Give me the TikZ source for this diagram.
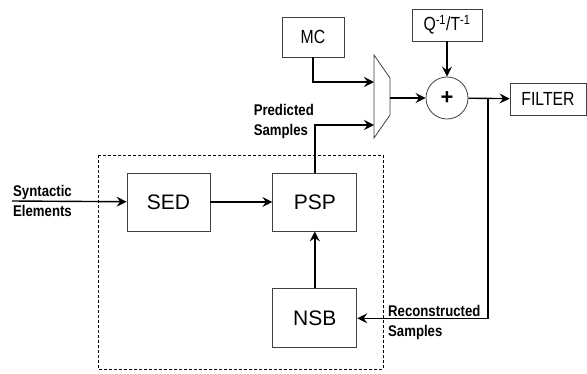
\documentclass[tikz,border=0pt]{standalone}
\usepackage{fontspec}
\setmainfont{Liberation Sans}
\newfontfamily\narrowsans[FakeStretch = 0.83]{Liberation Sans}
\newfontfamily\narrowbold[FakeStretch = 0.85, BoldFont = {Liberation Sans Bold}]{Liberation Sans}
\usetikzlibrary{arrows.meta, positioning}

\begin{document}
\begin{tikzpicture}[x = 1pt, y = -1pt, node distance = 57pt and 62pt]
\tikzstyle{block} = [rectangle, draw = black!75, line width = 0.8pt, fill = white, font = \fontsize{21}{24}\selectfont]
\tikzstyle{outer} = [block, font = \narrowsans\fontsize{19}{22}\selectfont]
\tikzstyle{connect} = [-{Stealth[length = 10pt, width = 10pt, inset = 3.5pt]}, line width = 1.4pt]
\tikzstyle{sig} = [font = \narrowbold\bfseries\fontsize{15.5}{20}\selectfont, inner sep = 1pt, align = left]
  \useasboundingbox (0,0) rectangle (587,373);
  \draw[dashed, line width = 0.8pt, dash pattern = on 3pt off 2pt] (98,155) rectangle (383,369);
  \node[block, minimum width = 83pt, minimum height = 58pt] (sed) at (168.5,202) {SED};
  \node[block, minimum width = 84pt, minimum height = 58pt, right=of sed] (psp) {PSP};
  \node[block, minimum width = 84pt, minimum height = 59pt, below=of psp] (nsb) {NSB};
  \node[outer, minimum width = 62pt, minimum height = 40pt] (mc) at (313,37) {MC};
  \node[outer, minimum width = 70pt, minimum height = 32pt] (q) at (447,25) {Q\textsuperscript{-1}/T\textsuperscript{-1}};
  \node[block, circle, minimum size = 42pt, inner sep = 0pt, font = \bfseries\fontsize{22}{22}\selectfont] (sum) at (447,98) {+};
  \node[outer, minimum width = 76pt, minimum height = 32pt] (filter) at (548,99) {FILTER};
  % multiplexer
  \draw[draw = black!75, line width = 0.8pt, fill = white] (374,55) -- (390,78) -- (390,115) -- (374,138) -- cycle;
  \coordinate (mcin) at (374,82);
  \coordinate (pspin) at (374,125);
  \coordinate (muxout) at (390,98);
  \coordinate (tap) at (488,98);
  \coordinate (synin) at (12,201);
  % signal labels
  \node[sig, anchor = west] (syntxt) at (synin) {Syntactic\\Elements};
  \node[sig, anchor = east] (predtxt) at (315,121) {Predicted\\Samples};
  \node[sig, anchor = west] (rectxt) at (387,322) {Reconstructed\\Samples};
  % connections
  \draw[connect] (synin) -- (sed);
  \draw[connect] (sed) -- (psp);
  \draw[connect] (nsb) -- (psp);
  \draw[connect] (mc.south) |- (mcin);
  \draw[connect] (psp.north) |- (pspin);
  \draw[connect] (muxout) -- (sum);
  \draw[connect] (q) -- (sum);
  \draw[connect] (sum) -- (filter);
  \draw[connect] (tap) |- (nsb.east);
\end{tikzpicture}
\end{document}
